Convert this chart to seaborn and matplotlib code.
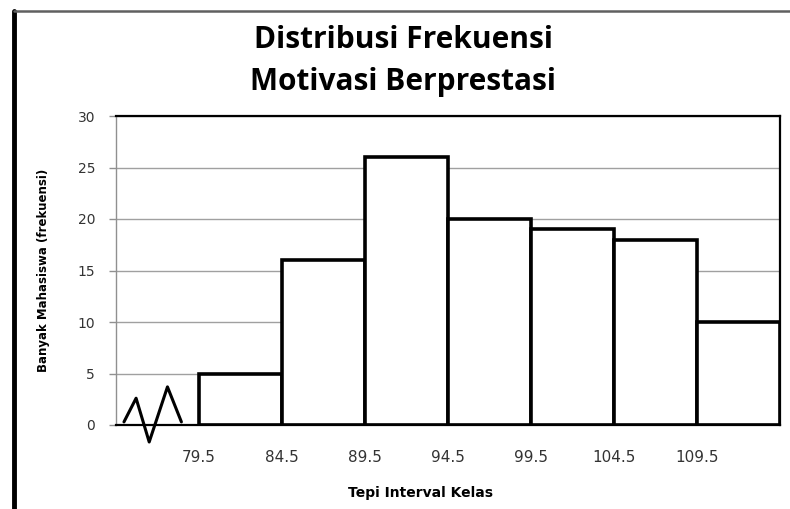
import numpy as np
import pandas as pd
import matplotlib
matplotlib.use("Agg")
import matplotlib.pyplot as plt
import seaborn as sns
from matplotlib.lines import Line2D

# DATA

tepi_bawah = [79.5, 84.5, 89.5, 94.5, 99.5, 104.5, 109.5]
frekuensi = [5, 16, 26, 20, 19, 18, 10]
lebar_kelas = 5
tick_labels = ["79.5", "84.5", "89.5", "94.5", "99.5", "104.5", "109.5"]
y_ticks = [0, 5, 10, 15, 20, 25, 30]

# axis break symbol (zigzag) in data units
zigzag_x = [74.98, 75.71, 76.5, 77.6, 78.44]
zigzag_y = [0.3, 2.6, -1.65, 3.7, 0.3]

df = pd.DataFrame({"tepi": tepi_bawah, "frek": frekuensi})

# PLOT

sns.set_style("white")
plt.rcParams["font.family"] = ["DejaVu Sans"]

fig = plt.figure(figsize=(7.9, 5.09), dpi=100)
ax = fig.add_axes([116 / 790, 1 - 425 / 509, 664 / 790, 309 / 509])

# gridlines behind bars
for v in y_ticks[1:]:
    ax.axhline(v, color="#a0a0a0", lw=1, zorder=0)

ax.bar(df["tepi"], df["frek"], width=lebar_kelas, align="edge",
       color="white", edgecolor="black", linewidth=2.6, zorder=2)

ax.plot(zigzag_x, zigzag_y, color="black", lw=2.2, clip_on=False, zorder=3)

ax.set_xlim(74.5, 114.5)
ax.set_ylim(0, 30)
ax.set_xticks(tepi_bawah)
ax.set_xticklabels(tick_labels)
ax.set_yticks(y_ticks)

ax.tick_params(axis="x", length=0, pad=18, labelsize=11, labelcolor="#333333")
ax.tick_params(axis="y", length=5, width=1, color="#909090", pad=10,
               labelsize=10, labelcolor="#333333", left=True)

for side in ["top", "right", "bottom"]:
    ax.spines[side].set_color("black")
    ax.spines[side].set_linewidth(1.6)
ax.spines["left"].set_color("#909090")
ax.spines["left"].set_linewidth(1)

ax.set_xlabel("Tepi Interval Kelas", fontsize=10, fontweight="bold", color="black")
ax.xaxis.set_label_coords((420 - 116) / 664, -(493 - 425) / 309)
ax.set_ylabel("Banyak Mahasiswa (frekuensi)", fontsize=8.5, fontweight="bold",
              color="black")
ax.yaxis.set_label_coords(-(116 - 44) / 664, 0.5)
ax.xaxis.label.set_verticalalignment("center")
ax.yaxis.label.set_verticalalignment("center")

fig.text(403 / 790, 1 - 48 / 509, "Distribusi Frekuensi", ha="center",
         va="baseline", fontsize=21.5, fontweight="bold", family="Open Sans",
         color="black")
fig.text(403 / 790, 1 - 90 / 509, "Motivasi Berprestasi", ha="center",
         va="baseline", fontsize=21.5, fontweight="bold", family="Open Sans",
         color="black")

# outer frame (left and top edges visible)
fig.add_artist(Line2D([14 / 790, 14 / 790], [0, 1 - 11 / 509],
                      transform=fig.transFigure, color="black", lw=3.5))
fig.add_artist(Line2D([14 / 790, 1], [1 - 11 / 509, 1 - 11 / 509],
                      transform=fig.transFigure, color="#606060", lw=1.8))

fig.savefig("out.png", dpi=100)
